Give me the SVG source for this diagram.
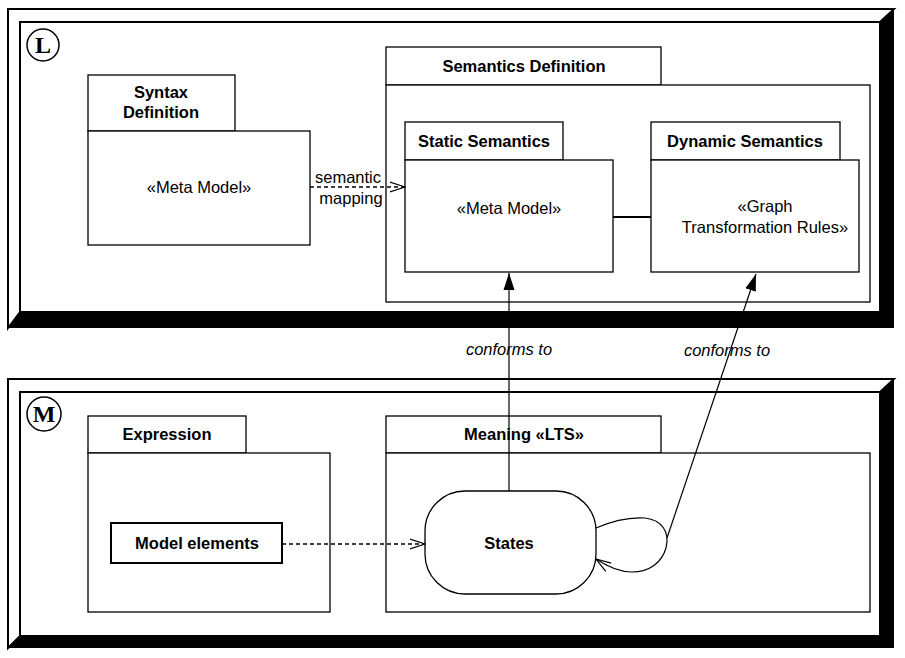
<svg xmlns="http://www.w3.org/2000/svg" width="905" height="658" viewBox="0 0 905 658">
<style>
text{font-family:"Liberation Sans",Arial,sans-serif;font-size:16.5px;fill:#000;text-anchor:middle}
.b{font-weight:bold}
.i{font-style:italic}
.box{fill:#fff;stroke:#000;stroke-width:1.3}
.bev{fill:#fff;stroke:#000;stroke-width:2}
.ln{fill:none;stroke:#000;stroke-width:1.2}
.dash{fill:none;stroke:#000;stroke-width:1.5;stroke-dasharray:4,3}
</style>
<defs>
<marker id="open" markerWidth="16" markerHeight="12" refX="15" refY="6" orient="auto" markerUnits="userSpaceOnUse">
<path d="M0,1 L15,6 L0,11" fill="none" stroke="#000" stroke-width="1.2"/>
</marker>
<marker id="filled" markerWidth="18" markerHeight="12" refX="17" refY="6" orient="auto" markerUnits="userSpaceOnUse">
<path d="M0,0.5 L17,6 L0,11.5 Z" fill="#000"/>
</marker>
</defs>
<rect width="905" height="658" fill="#fff"/>

<g id="frameL">
<rect x="8" y="9" width="886" height="319" fill="#000"/>
<polygon class="bev" points="8,9 894,9 880,22 20,22 20,312 8,328"/>
<rect x="20" y="22" width="860" height="290" class="bev"/>
<circle cx="43" cy="45" r="16" fill="#fff" stroke="#000" stroke-width="1.5"/>
<text x="43" y="53" style="font-family:'Liberation Serif',serif;font-weight:bold;font-size:24px">L</text>
</g>

<g id="frameM">
<rect x="8" y="379" width="886" height="269" fill="#000"/>
<polygon class="bev" points="8,379 894,379 880,392 20,392 20,636 8,648"/>
<rect x="20" y="392" width="860" height="244" class="bev"/>
<circle cx="44" cy="414" r="17" fill="#fff" stroke="#000" stroke-width="1.5"/>
<text x="44" y="422" style="font-family:'Liberation Serif',serif;font-weight:bold;font-size:24px">M</text>
</g>

<g id="syntax">
<rect x="88" y="75" width="147" height="56" class="box"/>
<rect x="88" y="131" width="222" height="114" class="box"/>
<text x="161" y="98" class="b">Syntax</text>
<text x="161" y="118" class="b">Definition</text>
<text x="199" y="193">«Meta Model»</text>
</g>

<g id="semantics">
<rect x="386" y="47" width="275" height="38" class="box"/>
<rect x="386" y="85" width="484" height="217" class="box"/>
<text x="524" y="72" class="b">Semantics Definition</text>
</g>

<g id="static">
<rect x="405" y="122" width="158" height="38" class="box"/>
<rect x="405" y="160" width="208" height="112" class="box"/>
<text x="484" y="147" class="b">Static Semantics</text>
<text x="509" y="214">«Meta Model»</text>
</g>

<g id="dynamic">
<rect x="651" y="122" width="189" height="38" class="box"/>
<rect x="651" y="160" width="208" height="112" class="box"/>
<text x="745" y="147" class="b">Dynamic Semantics</text>
<text x="765" y="212">«Graph</text>
<text x="765" y="233">Transformation Rules»</text>
</g>

<g id="expression">
<rect x="88" y="416" width="158" height="37" class="box"/>
<rect x="88" y="453" width="242" height="159" class="box"/>
<text x="167" y="440" class="b">Expression</text>
</g>

<g id="modelElements">
<rect x="111" y="523" width="171" height="40" fill="#fff" stroke="#000" stroke-width="2"/>
<text x="197" y="549" class="b">Model elements</text>
</g>

<g id="meaning">
<rect x="386" y="416" width="275" height="37" class="box"/>
<rect x="386" y="453" width="484" height="159" class="box"/>
<text x="524" y="440" class="b">Meaning «LTS»</text>
</g>

<g id="states">
<rect x="425" y="491" width="171" height="103" rx="40" ry="40" class="box"/>
<text x="509" y="549" class="b">States</text>
</g>

<g id="connectors">
<line x1="310" y1="187" x2="405" y2="187" class="dash" marker-end="url(#open)"/>
<text x="348" y="183">semantic</text>
<text x="351" y="204">mapping</text>
<line x1="613" y1="217" x2="651" y2="217" stroke="#000" stroke-width="2"/>
<line x1="282" y1="544" x2="425" y2="544" class="dash" marker-end="url(#open)"/>
<line x1="509" y1="491" x2="509" y2="273" class="ln" marker-end="url(#filled)"/>
<text x="509" y="355" class="i">conforms to</text>
<line x1="667" y1="538" x2="756" y2="274" class="ln" marker-end="url(#filled)"/>
<text x="727" y="356" class="i">conforms to</text>
<path d="M596,528 C612,521 630,517 645,518 C662,520 670,532 666,548 C662,562 650,572 632,572 C618,572 605,565 596,559" class="ln" marker-end="url(#open)"/>
</g>
</svg>
